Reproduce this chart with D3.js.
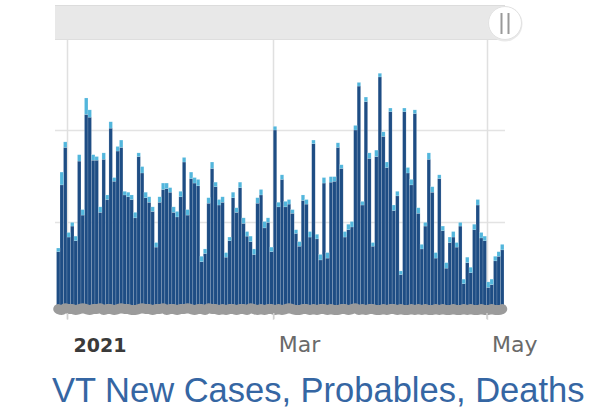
<!DOCTYPE html>
<html><head><meta charset="utf-8">
<script src="https://cdn.jsdelivr.net/npm/d3@7/dist/d3.min.js"></script>
<style>html,body{margin:0;padding:0;background:#fff;overflow:hidden}</style>
</head><body><svg id="c" width="593" height="414"></svg>
<script>
// ---- data ----
const startDate = "2020-12-29"; // first bar
const cases = [
 67,140,181,83,95,79,166,107,217,214,167,167,110,168,124,202,144,177,181,129,127,124,104,171,153,126,
 121,111,72,121,135,136,132,110,105,127,165,107,147,142,139,56,65,120,158,138,118,121,61,79,126,
 110,137,98,84,78,64,120,129,93,99,67,200,116,146,116,119,109,87,73,123,119,83,185,81,58,142,
 60,143,144,181,158,83,91,94,200,248,118,231,169,73,171,258,193,159,220,112,128,42,220,153,140,218,109,
 70,95,168,132,60,147,90,49,77,83,72,95,32,55,44,91,118,82,79,28,31,57,62,69
];
const probables = [
 4,14,6,5,4,5,7,6,18,8,6,4,6,7,5,7,4,5,8,4,5,5,6,4,7,6,
 6,5,5,6,7,6,5,6,6,6,5,6,7,6,7,6,5,6,7,5,6,6,5,4,6,
 5,6,6,5,6,6,6,6,7,5,5,4,5,5,6,5,4,4,5,6,5,6,4,5,6,6,
 6,6,5,5,4,6,6,6,5,4,4,5,6,4,7,4,5,6,4,6,5,4,4,6,6,4,6,
 5,4,7,6,6,4,5,6,6,6,5,4,5,6,6,6,6,6,5,6,6,5,5,6
];
const deaths = [
 1,0,2,1,1,0,1,2,1,0,1,1,2,0,1,1,0,1,2,1,1,0,0,1,2,1,
 1,0,1,1,2,0,1,1,0,1,1,2,1,0,1,1,0,2,1,1,0,1,0,1,1,
 0,1,1,0,2,1,0,1,0,1,1,0,1,0,1,2,1,0,0,1,1,0,1,0,1,1,
 0,1,0,0,1,1,0,1,2,0,1,0,1,1,0,0,1,0,1,1,0,1,0,0,1,0,1,
 0,1,0,0,1,0,1,0,0,1,0,0,1,0,1,0,0,1,0,0,1,0,0,1
];
const tickDates = ["2021-01-01","2021-03-01","2021-05-01"];
const tickLabels = ["2021","Mar","May"];
const yGridValues = [100, 200];
const title = "VT New Cases, Probables, Deaths";

// ---- chart ----
const svg = d3.select("#c");
const parse = d3.utcParse("%Y-%m-%d");
const d0 = parse(startDate);
const rows = cases.map((c,i)=>({date:d3.utcDay.offset(d0,i), cases:c, prob:probables[i], deaths:deaths[i]}));

const x = d3.scaleUtc().domain([parse("2021-01-01"), parse("2021-05-01")]).range([67, 486.5]);
const y = d3.scaleLinear().domain([0, 200]).range([313, 130]);
const plotL = 55, plotR = 505, plotT = 40;

// navigator / scrollbar
svg.append("rect").attr("x",plotL).attr("y",5).attr("width",plotR-plotL).attr("height",35).attr("fill","#e8e8e8");
svg.append("line").attr("x1",plotL).attr("x2",plotR).attr("y1",5.5).attr("y2",5.5).attr("stroke","#dcdcdc");
svg.append("line").attr("x1",plotL).attr("x2",plotR).attr("y1",39.5).attr("y2",39.5).attr("stroke","#dedede");

// grid
svg.append("g").selectAll("line").data(yGridValues).join("line")
  .attr("x1",plotL).attr("x2",plotR).attr("y1",d=>Math.round(y(d))+0.5).attr("y2",d=>Math.round(y(d))+0.5)
  .attr("stroke","#e3e3e3").attr("stroke-width",1.5);
svg.append("g").selectAll("line").data(tickDates).join("line")
  .attr("x1",d=>Math.round(x(parse(d)))+0.5).attr("x2",d=>Math.round(x(parse(d)))+0.5)
  .attr("y1",plotT).attr("y2",320).attr("stroke","#e0e0e0").attr("stroke-width",1.5);

// stacked bars
const stack = d3.stack().keys(["cases","prob"])(rows);
const colors = {cases:"#1e4d84", prob:"#52b6dc"};
svg.append("g").selectAll("g").data(stack).join("g").attr("fill",s=>colors[s.key])
  .selectAll("rect").data(s=>s).join("rect")
  .attr("x",d=>x(d.data.date))
  .attr("width",d=>x(d3.utcDay.offset(d.data.date,1))-x(d.data.date))
  .attr("y",d=>y(d[1]))
  .attr("height",d=>y(d[0])-y(d[1]))
  .attr("stroke","rgba(255,255,255,0.3)").attr("stroke-width",0.5);

// deaths band
const line = d3.line().x(d=>x(d.date)+(x(d3.utcDay.offset(d.date,1))-x(d.date))/2).y(d=>y(d.deaths)-3).curve(d3.curveMonotoneX);
svg.append("path").datum(rows).attr("d",line).attr("fill","none")
  .attr("stroke","#9b9b9b").attr("stroke-width",10).attr("stroke-linecap","round");

// x axis ticks and labels
const xAxis = d3.axisBottom(x).tickValues(tickDates.map(parse)).tickSize(6)
  .tickFormat((d,i)=>tickLabels[i]);
const gx = svg.append("g").attr("transform","translate(0,313)").call(xAxis);
gx.select(".domain").remove();
gx.selectAll(".tick line").attr("stroke","#cfcfcf").attr("stroke-width",1.5);
gx.selectAll(".tick text").attr("text-anchor","start").attr("dx",(d,i)=>i===0?6:5).attr("y",0).attr("dy",39)
  .attr("font-family","'DejaVu Sans', Verdana, sans-serif").attr("font-size",(d,i)=>i===0?19:22)
  .attr("fill",(d,i)=>i===0?"#3a3a3a":"#6a6a6a").attr("font-weight",(d,i)=>i===0?"bold":"normal");

// handle
const hx = 505, hy = 23;
svg.append("circle").attr("cx",hx).attr("cy",hy+1).attr("r",17.5).attr("fill","#e9e9e9");
svg.append("circle").attr("cx",hx).attr("cy",hy).attr("r",16.5).attr("fill","#ffffff").attr("stroke","#e2e2e2");
svg.append("g").selectAll("line").data([-3.5,3.5]).join("line")
  .attr("x1",d=>hx+d).attr("x2",d=>hx+d).attr("y1",hy-10).attr("y2",hy+11)
  .attr("stroke","#999").attr("stroke-width",2);

// title
svg.append("text").attr("x",52).attr("y",402).text(title)
  .attr("font-family","'Liberation Sans', Arial, sans-serif").attr("font-size",34.5).attr("fill","#3566a3");
</script></body></html>
